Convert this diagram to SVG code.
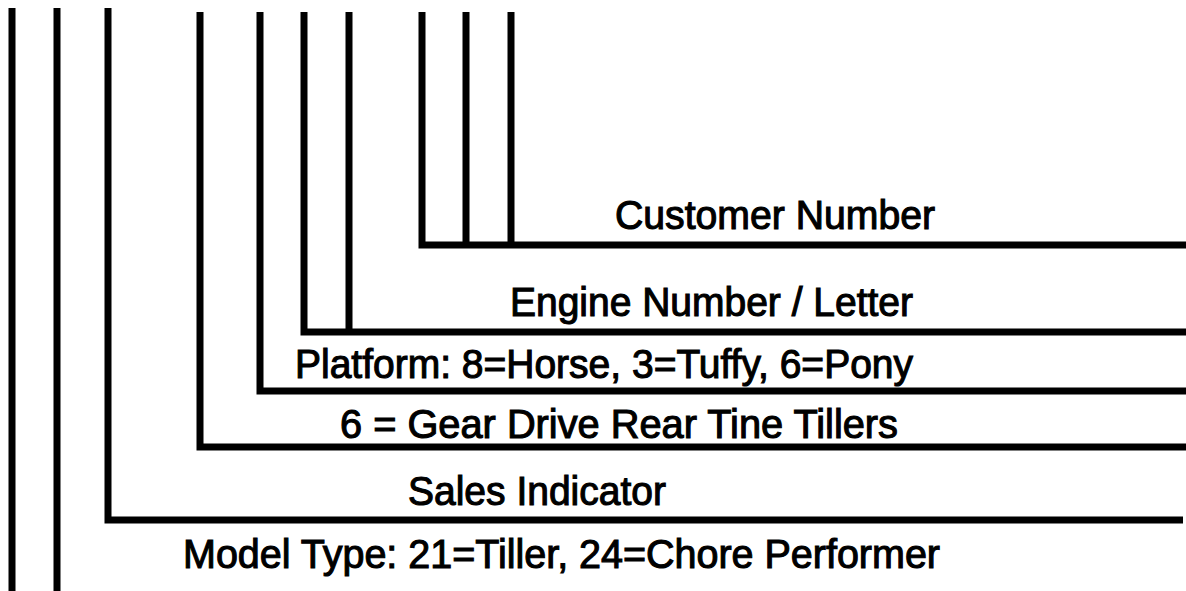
<svg xmlns="http://www.w3.org/2000/svg" width="1186" height="591" viewBox="0 0 1186 591">
<style>
.ln{fill:none;stroke:#000;stroke-width:7;stroke-linejoin:miter;stroke-linecap:butt}
.lbl{font-family:"Liberation Sans",Arial,sans-serif;font-size:40px;fill:#000;stroke:#000;stroke-width:1.1}
</style>
<rect width="1186" height="591" fill="#fff"/>
<g id="connectors">
<path class="ln" d="M12 8V591"/>
<path class="ln" d="M57 8V591"/>
<path class="ln" d="M108 8V520H1183"/>
<path class="ln" d="M200 12V447H1186"/>
<path class="ln" d="M260 12V391H1186"/>
<path class="ln" d="M304 12V332H1186"/>
<path class="ln" d="M349 12V332"/>
<path class="ln" d="M422 12V245H1186"/>
<path class="ln" d="M466 12V245"/>
<path class="ln" d="M511 12V245"/>
</g>
<g id="customer-number"><text class="lbl" x="615" y="229" textLength="320" lengthAdjust="spacingAndGlyphs">Customer Number</text></g>
<g id="engine-number"><text class="lbl" x="510" y="316" textLength="403" lengthAdjust="spacingAndGlyphs">Engine Number / Letter</text></g>
<g id="platform"><text class="lbl" x="295" y="378" textLength="618" lengthAdjust="spacingAndGlyphs">Platform: 8=Horse, 3=Tuffy, 6=Pony</text></g>
<g id="gear-drive"><text class="lbl" x="340" y="438" textLength="558" lengthAdjust="spacingAndGlyphs">6 = Gear Drive Rear Tine Tillers</text></g>
<g id="sales-indicator"><text class="lbl" x="408" y="505" textLength="258" lengthAdjust="spacingAndGlyphs">Sales Indicator</text></g>
<g id="model-type"><text class="lbl" x="183" y="568" textLength="757" lengthAdjust="spacingAndGlyphs">Model Type: 21=Tiller, 24=Chore Performer</text></g>
</svg>
